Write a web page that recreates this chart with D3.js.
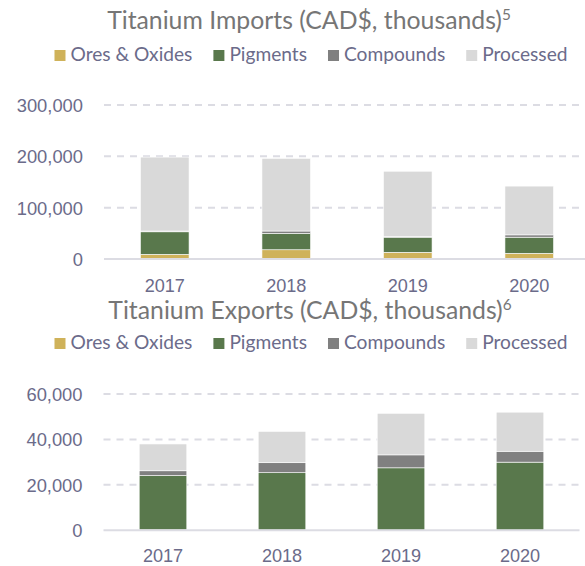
<!DOCTYPE html>
<html>
<head>
<meta charset="utf-8">
<script src="https://cdn.jsdelivr.net/npm/d3@7"></script>
<style>
  html, body { margin: 0; padding: 0; background: #ffffff; }
  svg { display: block; font-family: Lato, "Open Sans", "DejaVu Sans", sans-serif; }
</style>
</head>
<body>
<svg id="chart" width="585" height="566"></svg>
<script>
// ---- Data (CAD$, thousands) ----
const years = ["2017", "2018", "2019", "2020"];
const seriesNames = ["Ores & Oxides", "Pigments", "Compounds", "Processed"];
const seriesColors = ["#cfb25a", "#59784c", "#808080", "#d9d9d9"];

const importsOres       = [9000, 18000, 13000, 11000];
const importsPigments   = [44000, 32000, 29500, 31500];
const importsCompounds  = [1500, 4500, 1500, 4500];
const importsProcessed  = [144000, 141500, 127000, 95000];
const importTicks = [0, 100000, 200000, 300000];

const exportsOres       = [200, 150, 100, 100];
const exportsPigments   = [23900, 25200, 27400, 29900];
const exportsCompounds  = [2100, 4400, 5700, 4800];
const exportsProcessed  = [11800, 13800, 18300, 17200];
const exportTicks = [0, 20000, 40000, 60000];

// ---- Styling ----
const titleColor = "#767676";
const labelColor = "#6b6b8a";
const gridColor = "#dcdce3";

const svg = d3.select("#chart");

// Pick font sizes so key strings reach their intended widths.
function fitSize(text, targetWidth, base) {
  const probe = svg.append("text").attr("font-size", base).text(text);
  const w = probe.node().getComputedTextLength();
  probe.remove();
  return base * targetWidth / w;
}
const titleSize  = fitSize("Titanium Imports (CAD$, thousands)", 395, 24);
const legendSize = fitSize("Ores & Oxides", 122, 18);
const tickSize   = fitSize("300,000", 68, 18);
const yearSize   = fitSize("2017", 42, 18);

function buildRows(ores, pigments, compounds, processed) {
  return years.map((y, i) => ({
    year: y,
    "Ores & Oxides": ores[i],
    "Pigments": pigments[i],
    "Compounds": compounds[i],
    "Processed": processed[i]
  }));
}

function drawChart(cfg) {
  const g = svg.append("g");

  // Title with superscript note marker
  const title = g.append("text")
    .attr("x", cfg.titleX)
    .attr("y", cfg.titleY)
    .attr("text-anchor", "middle")
    .attr("font-size", titleSize)
    .attr("fill", titleColor);
  title.append("tspan").text(cfg.title);
  title.append("tspan")
    .attr("font-size", titleSize * 0.62)
    .attr("dy", -titleSize * 0.38)
    .text(cfg.note);

  // Legend, centred
  const legend = g.append("g");
  const sq = 11, sqGap = 5, itemGap = 21;
  let cx = 0;
  seriesNames.forEach((name, i) => {
    const item = legend.append("g").attr("transform", `translate(${cx},0)`);
    item.append("rect")
      .attr("x", 0).attr("y", cfg.legendY - sq)
      .attr("width", sq).attr("height", sq)
      .attr("fill", seriesColors[i]);
    const t = item.append("text")
      .attr("x", sq + sqGap).attr("y", cfg.legendY)
      .attr("font-size", legendSize)
      .attr("fill", labelColor)
      .text(name);
    cx += sq + sqGap + t.node().getComputedTextLength() + itemGap;
  });
  const legendWidth = cx - itemGap;
  legend.attr("transform", `translate(${cfg.legendCenter - legendWidth / 2},0)`);

  // Scales
  const x = d3.scaleBand()
    .domain(years)
    .range([cfg.x0, cfg.x1])
    .paddingInner(0.6)
    .paddingOuter(0.3);
  const y = d3.scaleLinear()
    .domain([0, d3.max(cfg.ticks)])
    .range([cfg.yBottom, cfg.yTop]);

  // Gridlines (dashed) for non-zero ticks
  g.append("g").selectAll("line")
    .data(cfg.ticks.filter(t => t > 0))
    .join("line")
    .attr("x1", cfg.x0).attr("x2", cfg.x1)
    .attr("y1", d => y(d)).attr("y2", d => y(d))
    .attr("stroke", gridColor)
    .attr("stroke-width", 2)
    .attr("stroke-dasharray", "7,6");

  // Y axis labels
  const yAxis = d3.axisLeft(y)
    .tickValues(cfg.ticks)
    .tickFormat(d3.format(","))
    .tickSize(0)
    .tickPadding(0);
  const ya = g.append("g")
    .attr("transform", `translate(${cfg.labelRight},0)`)
    .call(yAxis);
  ya.select(".domain").remove();
  ya.selectAll("text")
    .attr("font-family", null)
    .attr("font-size", tickSize)
    .attr("fill", labelColor)
    .attr("dy", "0.35em");

  // Stacked bars
  const stack = d3.stack().keys(seriesNames);
  const layers = stack(cfg.rows);
  g.append("g").selectAll("g")
    .data(layers)
    .join("g")
    .attr("fill", (d, i) => seriesColors[i])
    .selectAll("rect")
    .data(d => d)
    .join("rect")
    .attr("x", d => x(d.data.year))
    .attr("width", x.bandwidth())
    .attr("y", d => y(d[1]))
    .attr("height", d => y(d[0]) - y(d[1]))
    .attr("stroke", "#ffffff")
    .attr("stroke-width", 0.6);

  // Baseline
  g.append("line")
    .attr("x1", cfg.x0).attr("x2", cfg.x1)
    .attr("y1", y(0)).attr("y2", y(0))
    .attr("stroke", gridColor)
    .attr("stroke-width", 2);

  // Category labels
  const xAxis = d3.axisBottom(x).tickSize(0).tickPadding(0);
  const xa = g.append("g")
    .attr("transform", `translate(0,${cfg.yearBaseline})`)
    .call(xAxis);
  xa.select(".domain").remove();
  xa.selectAll("text")
    .attr("font-family", null)
    .attr("font-size", yearSize)
    .attr("fill", labelColor)
    .attr("dy", 0);
}

drawChart({
  title: "Titanium Imports (CAD$, thousands)",
  note: "5",
  titleX: 309, titleY: 29,
  legendY: 61, legendCenter: 311,
  rows: buildRows(importsOres, importsPigments, importsCompounds, importsProcessed),
  ticks: importTicks,
  x0: 104, x1: 590,
  yBottom: 259, yTop: 105,
  labelRight: 83,
  yearBaseline: 292
});

drawChart({
  title: "Titanium Exports (CAD$, thousands)",
  note: "6",
  titleX: 310, titleY: 319,
  legendY: 349, legendCenter: 311,
  rows: buildRows(exportsOres, exportsPigments, exportsCompounds, exportsProcessed),
  ticks: exportTicks,
  x0: 103.5, x1: 579.5,
  yBottom: 530.3, yTop: 394,
  labelRight: 82.5,
  yearBaseline: 562
});
</script>
</body>
</html>
